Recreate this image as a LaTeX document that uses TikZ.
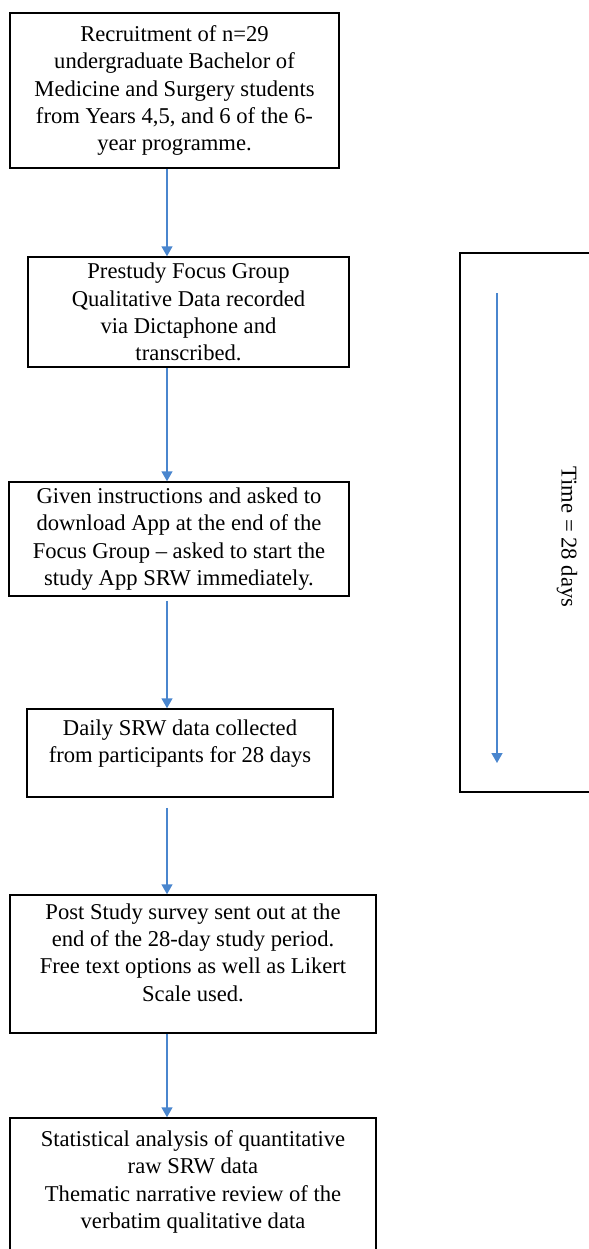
\documentclass[tikz,border=0pt]{standalone}
\usepackage{fontspec}
\setmainfont{Liberation Serif}
\usetikzlibrary{arrows.meta}
\definecolor{flowblue}{RGB}{74,134,206}
\newcommand{\raiseby}[1]{\rule[-#1]{0pt}{#1}}

\begin{document}
\begin{tikzpicture}[x=0.5pt, y=-0.5pt,
  stagebox/.style={draw, line width=0.75pt, rectangle, align=center, inner sep=0pt,
    font=\fontsize{11.3}{13.6}\selectfont},
  flow/.style={draw=flowblue, line width=0.75pt, -{Triangle[length=5pt, width=5.5pt]}}]
\useasboundingbox (0,0) rectangle (589,1249);
\clip (0,0) rectangle (589,1249);
\coordinate (ax) at (167,0);
\node[stagebox, minimum width=164.5pt, minimum height=77.5pt] (recruit) at (174.5,90.5)
  {Recruitment of n=29\\undergraduate Bachelor of\\Medicine and Surgery students\\from Years 4,5, and 6 of the 6-\\year programme.};
\node[stagebox, minimum width=160.5pt, minimum height=55pt] (prestudy) at (188.5,312)
  {Prestudy Focus Group\\Qualitative Data recorded\\via Dictaphone and\\transcribed.};
\node[stagebox, minimum width=170pt, minimum height=57pt] (instruct) at (179,539)
  {Given instructions and asked to\\download App at the end of the\\Focus Group -- asked to start the\\study App SRW immediately.};
\node[stagebox, minimum width=153pt, minimum height=44pt] (daily) at (180,753)
  {Daily SRW data collected\\from participants for 28 days\raiseby{11.5pt}};
\node[stagebox, minimum width=183pt, minimum height=69pt] (survey) at (193,964)
  {Post Study survey sent out at the\\end of the 28-day study period.\\Free text options as well as Likert\\Scale used.\raiseby{11.5pt}};
\node[stagebox, minimum width=183pt, minimum height=72pt] (analysis) at (193,1190)
  {Statistical analysis of quantitative\\raw SRW data\\Thematic narrative review of the\\verbatim qualitative data\raiseby{10.5pt}};
% time frame on the right
\node[stagebox, minimum width=90pt, minimum height=269.5pt] (timebox) at (550,522.5) {};
\node[font=\fontsize{11.3}{13.6}\selectfont, rotate=-90] (timelbl) at (567,537) {Time = 28 days};
\coordinate (tstart) at (497,293);
\coordinate (tend) at (497,763);
\draw[flow] (tstart) -- (tend);
\draw[flow] (recruit.south -| ax) -- (prestudy.north -| ax);
\draw[flow] (prestudy.south -| ax) -- (instruct.north -| ax);
\draw[flow] (instruct.south -| ax) ++(0,4) -- (daily.north -| ax);
\draw[flow] (daily.south -| ax) ++(0,10) -- (survey.north -| ax);
\draw[flow] (survey.south -| ax) -- (analysis.north -| ax);
\end{tikzpicture}
\end{document}
